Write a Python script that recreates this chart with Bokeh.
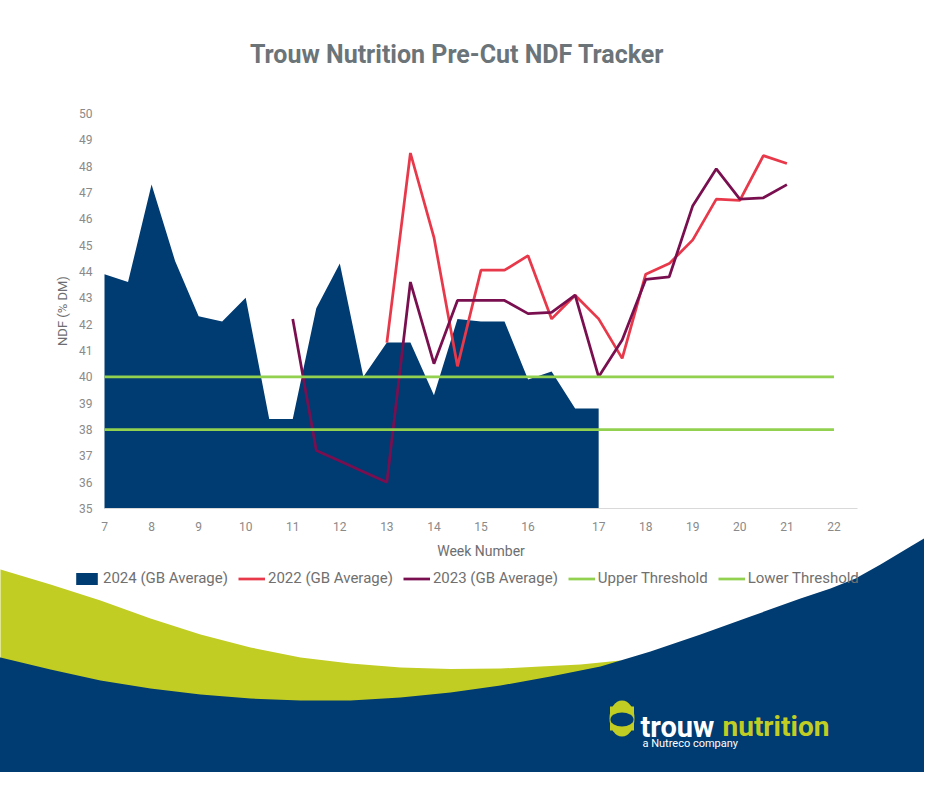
from bokeh.plotting import figure
from bokeh.models import Range1d, FixedTicker, Legend, LegendItem, LinearAxis
from bokeh.core.properties import value
from bokeh.embed import file_html
from bokeh.resources import INLINE

# ---------------- data ----------------
title_text = "Trouw Nutrition Pre-Cut NDF Tracker"
x_axis_title = "Week Number"
y_axis_title = "NDF (% DM)"

# category slots (half-week steps); labelled slots and their week numbers
week_tick_positions = [0, 2, 4, 6, 8, 10, 12, 14, 16, 18, 21, 23, 25, 27, 29, 31]
week_tick_labels = ["7", "8", "9", "10", "11", "12", "13", "14", "15", "16",
                    "17", "18", "19", "20", "21", "22"]
ndf_ticks = [35, 36, 37, 38, 39, 40, 41, 42, 43, 44, 45, 46, 47, 48, 49, 50]

slots_2024 = [0, 1, 2, 3, 4, 5, 6, 7, 8, 9, 10, 11, 12, 13, 14, 15, 16, 17, 18, 19, 20, 21]
ndf_2024 = [43.9, 43.6, 47.3, 44.4, 42.3, 42.1, 43.0, 38.4, 38.4, 42.6, 44.3,
            40.0, 41.3, 41.3, 39.3, 42.2, 42.1, 42.1, 39.9, 40.2, 38.8, 38.8]

slots_2022 = [12, 13, 14, 15, 16, 17, 18, 19, 20, 21, 22, 23, 24, 25, 26, 27, 28, 29]
ndf_2022 = [41.3, 48.5, 45.3, 40.4, 44.05, 44.05, 44.6, 42.2, 43.1, 42.2,
            40.7, 43.9, 44.3, 45.2, 46.75, 46.7, 48.4, 48.1]

slots_2023 = [8, 9, 10, 11, 12, 13, 14, 15, 16, 17, 18, 19, 20, 21, 22, 23,
              24, 25, 26, 27, 28, 29]
ndf_2023 = [42.2, 37.2, 36.8, 36.4, 36.0, 43.6, 40.5, 42.9, 42.9, 42.9, 42.4,
            42.45, 43.1, 40.0, 41.4, 43.7, 43.8, 46.5, 47.9, 46.75, 46.8, 47.3]

threshold_slots = [0, 31]
upper_threshold = [40, 40]
lower_threshold = [38, 38]

series_names = ["2024 (GB Average)", "2022 (GB Average)", "2023 (GB Average)",
                "Upper Threshold", "Lower Threshold"]

# ---------------- styling ----------------
NAVY = "#003b71"
LIME = "#c1cd23"
RED = "#e8394b"
PURPLE = "#7a0f50"
GREEN = "#92d050"
FONT = "Roboto"

W, H = 924, 772
OFF = 0                       # screenshot origin
X_LO, X_HI = 0, 32            # category axis extent
Y_LO, Y_HI = 35, 50
PX_X_LO, PX_X_HI = 104, 857   # pixels of the plot area
PX_Y_LO, PX_Y_HI = 508, 113

kx = (PX_X_HI - PX_X_LO) / (X_HI - X_LO)
ky = (PX_Y_LO - PX_Y_HI) / (Y_HI - Y_LO)
x_range = Range1d(X_LO - (PX_X_LO - OFF) / kx, X_HI + (OFF + W - PX_X_HI) / kx)
y_range = Range1d(Y_LO - (OFF + H - PX_Y_LO) / ky, Y_HI + (PX_Y_HI - OFF) / ky)

p = figure(width=W, height=H, x_range=x_range, y_range=y_range,
           output_backend="svg", toolbar_location=None,
           x_axis_location=None, y_axis_location=None, title_location=None,
           min_border=0, outline_line_color=None,
           background_fill_color="white", border_fill_color="white")
p.grid.visible = False
p.xgrid.visible = False
p.ygrid.visible = False
p.extra_x_ranges = {"px": Range1d(OFF, OFF + W)}
p.extra_y_ranges = {"px": Range1d(OFF + H, OFF)}

# ---------------- background decoration (pixels) ----------------
green_top = [(-10, 566), (0, 569), (50, 584), (100, 600), (150, 618), (200, 634),
             (250, 647), (300, 657), (350, 663), (400, 667), (450, 668.5),
             (500, 668), (540, 666), (580, 664), (620, 660)]
green_x = [pt[0] for pt in green_top] + [640, -10]
green_y = [pt[1] for pt in green_top] + [800, 800]
p.patch(x=green_x, y=green_y, fill_color=LIME, line_color=None,
        x_range_name="px", y_range_name="px", level="underlay")

# ---------------- chart ----------------
area = p.varea(x=slots_2024, y1=Y_LO, y2=ndf_2024, fill_color=NAVY)
l22 = p.line(slots_2022, ndf_2022, line_color=RED, line_width=2.75)
l23 = p.line(slots_2023, ndf_2023, line_color=PURPLE, line_width=2.75)
lup = p.line(threshold_slots, upper_threshold, line_color=GREEN, line_width=2.75)
llo = p.line(threshold_slots, lower_threshold, line_color=GREEN, line_width=2.75)

xaxis = LinearAxis(fixed_location=Y_LO, bounds=(X_LO, X_HI),
                   ticker=FixedTicker(ticks=week_tick_positions),
                   major_label_overrides={pos: lab for pos, lab in zip(week_tick_positions, week_tick_labels)},
                   axis_label=x_axis_title)
yaxis = LinearAxis(fixed_location=X_LO, bounds=(Y_LO, Y_HI),
                   ticker=FixedTicker(ticks=ndf_ticks), axis_label=y_axis_title)
for ax in (xaxis, yaxis):
    ax.major_tick_in = 0
    ax.major_tick_out = 0
    ax.minor_tick_in = 0
    ax.minor_tick_out = 0
    ax.major_label_text_font = FONT
    ax.major_label_text_font_size = "12px"
    ax.major_label_text_color = "#8a8a8a"
    ax.axis_label_text_font = FONT
    ax.axis_label_text_font_style = "normal"
    ax.axis_label_text_color = "#6d6e71"
xaxis.axis_line_color = "#d9d9d9"
xaxis.axis_line_width = 1
xaxis.major_label_standoff = 13
xaxis.axis_label_standoff = 9
xaxis.axis_label_text_font_size = "14px"
yaxis.axis_line_color = None
yaxis.major_label_standoff = 12
yaxis.axis_label_standoff = 6
yaxis.axis_label_text_font_size = "13px"
p.add_layout(xaxis, "below")
p.add_layout(yaxis, "left")

legend = Legend(items=[LegendItem(label=n, renderers=[r]) for n, r in
                       zip(series_names, [area, l22, l23, lup, llo])],
                orientation="horizontal", location=(73, 185),
                border_line_color=None, background_fill_alpha=0,
                padding=0, margin=0, spacing=10, glyph_width=27, glyph_height=15,
                label_standoff=3, label_text_font=FONT,
                label_text_font_size="15px", label_text_color="#707070")
p.add_layout(legend)

# navy swoosh drawn above the legend, as in the original artwork
navy_top = [(-10, 655), (0, 657), (50, 669), (100, 680), (150, 688), (200, 694),
            (250, 698), (300, 700), (350, 700), (400, 697), (450, 692), (500, 685),
            (550, 676), (600, 666), (650, 651), (700, 634), (750, 616), (800, 598),
            (830, 588), (855, 578), (880, 564), (910, 546), (940, 528), (960, 516)]
navy_x = [pt[0] for pt in navy_top] + [960, -10]
navy_y = [pt[1] for pt in navy_top] + [800, 800]
p.patch(x=navy_x, y=navy_y, fill_color=NAVY, line_color=None,
        x_range_name="px", y_range_name="px", level="overlay")

# logo
p.ellipse(x=[621.5], y=[718], width=25, height=36, fill_color=LIME, line_color=None,
          x_range_name="px", y_range_name="px", level="overlay")
p.rect(x=[621.5], y=[718], width=24, height=24, fill_color=LIME, line_color=None,
       x_range_name="px", y_range_name="px", level="overlay")
p.ellipse(x=[621.5], y=[719], width=23, height=14, fill_color=NAVY, line_color=None,
          x_range_name="px", y_range_name="px", level="overlay")
p.text(x=[640], y=[726], text=["trouw"], text_align="left", text_baseline="alphabetic",
       text_font=value(FONT), text_font_style="bold", text_font_size=value("29px"),
       text_color="white", x_range_name="px", y_range_name="px", level="overlay")
p.text(x=[722], y=[726], text=["nutrition"], text_align="left", text_baseline="alphabetic",
       text_font=value(FONT), text_font_style="bold", text_font_size=value("28px"),
       text_color=LIME, x_range_name="px", y_range_name="px", level="overlay")
p.text(x=[642], y=[743], text=["a Nutreco company"], text_align="left", text_baseline="middle",
       text_font=value(FONT), text_font_size=value("11px"),
       text_color="white", x_range_name="px", y_range_name="px", level="overlay")

# title
p.text(x=[456.5], y=[54], text=[title_text], text_align="center", text_baseline="middle",
       text_font=value(FONT), text_font_style="bold", text_font_size=value("25px"),
       text_color="#6b7478", x_range_name="px", y_range_name="px")

open("out.html", "w").write(file_html(p, INLINE))
